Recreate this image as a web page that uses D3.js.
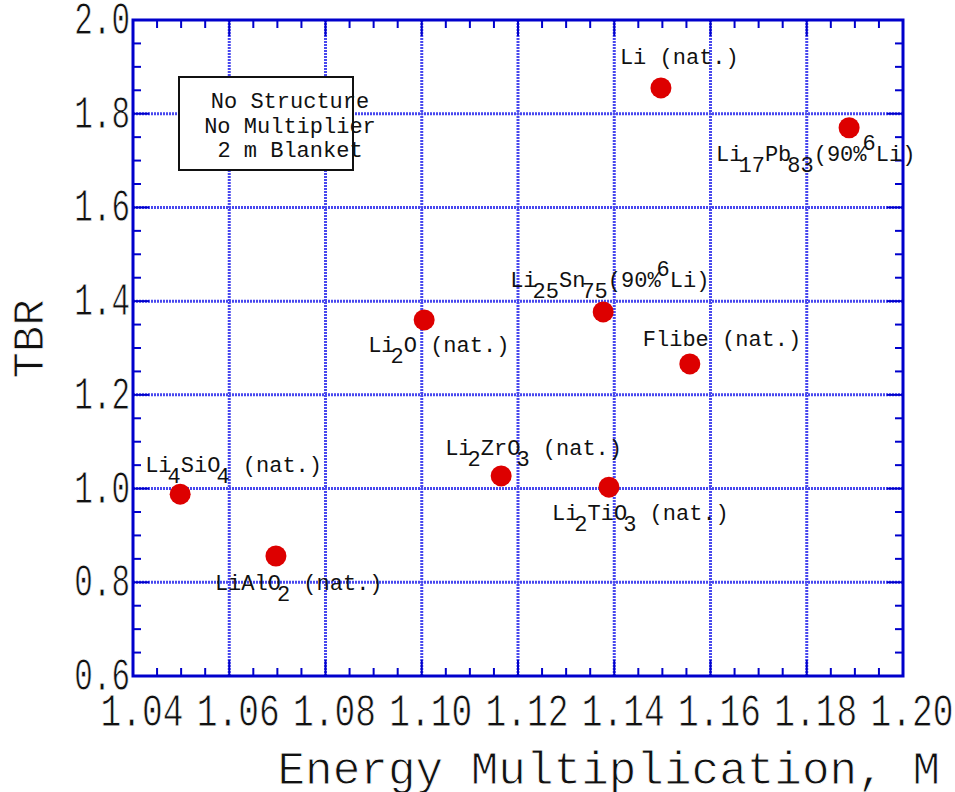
<!DOCTYPE html>
<html>
<head>
<meta charset="utf-8">
<script src="https://cdn.jsdelivr.net/npm/d3@7"></script>
<style>
  body { margin: 0; background: #fff; }
  text { font-family: "Liberation Mono", "DejaVu Sans Mono", monospace; fill: #111; }
  .tick-label { stroke: #fff; stroke-width: 0.6px; }
  .title { stroke: #fff; stroke-width: 0.9px; }
</style>
</head>
<body>
<svg id="chart" width="955" height="792"></svg>
<script>
// material names, split into text parts: s = subscript, p = superscript
const materials = [
  [['Li'], [' (nat.)']],
  [['Li'], ['17', 's'], ['Pb'], ['83', 's'], ['(90%'], ['6', 'p'], ['Li)']],
  [['Li'], ['25', 's'], ['Sn'], ['75', 's'], ['(90%'], ['6', 'p'], ['Li)']],
  [['Li'], ['2', 's'], ['O (nat.)']],
  [['Flibe (nat.)']],
  [['Li'], ['2', 's'], ['ZrO'], ['3', 's'], [' (nat.)']],
  [['Li'], ['2', 's'], ['TiO'], ['3', 's'], [' (nat.)']],
  [['Li'], ['4', 's'], ['SiO'], ['4', 's'], [' (nat.)']],
  [['LiAlO'], ['2', 's'], [' (nat.)']]
]
const energyMult = [1.1497, 1.1888, 1.1377, 1.1005, 1.1557, 1.1165, 1.1389, 1.0498, 1.0697]
const tbr = [1.855, 1.770, 1.377, 1.360, 1.266, 1.027, 1.003, 0.988, 0.856]
// label placement relative to the dot, in pixels
const labelOffsets = [[-41, -24], [-133, 33], [-93, -25], [-56, 32], [-47, -18], [-56, -21], [-57, 33], [-35, -22], [-61, 34]]

const xTicks = [1.04, 1.06, 1.08, 1.10, 1.12, 1.14, 1.16, 1.18, 1.20]
const yTicks = [0.6, 0.8, 1.0, 1.2, 1.4, 1.6, 1.8, 2.0]
const noteLines = ['No Structure', 'No Multiplier', '2 m Blanket']

const svg = d3.select('#chart')
const margin = { left: 133, right: 52, top: 20, bottom: 116 }
const W = 955, H = 792
const x = d3.scaleLinear().domain([1.04, 1.20]).range([margin.left, W - margin.right])
const y = d3.scaleLinear().domain([0.6, 2.0]).range([H - margin.bottom, margin.top])
const [x0, x1] = x.range(), [y0, y1] = y.range()

const blue = '#0000cc'

// grid
const grid = svg.append('g')
grid.selectAll('.gx').data(xTicks.slice(1, -1)).join('line')
  .attr('x1', d => x(d)).attr('x2', d => x(d)).attr('y1', y0).attr('y2', y1)
grid.selectAll('.gy').data(yTicks.slice(1, -1)).join('line')
  .attr('y1', d => y(d)).attr('y2', d => y(d)).attr('x1', x0).attr('x2', x1)
grid.selectAll('line')
  .attr('stroke', '#4848ee').attr('stroke-width', 3).attr('stroke-dasharray', '2,1')

// minor/major ticks, inward on all four sides
const ticks = svg.append('g').attr('stroke', blue).attr('stroke-width', 2)
const xMinor = d3.range(0, 33).map(i => 1.04 + i * 0.005)
const yMinor = d3.range(0, 29).map(i => 0.6 + i * 0.05)
xMinor.forEach((v, i) => {
  const len = i % 4 === 0 ? 16 : 8
  ticks.append('line').attr('x1', x(v)).attr('x2', x(v)).attr('y1', y0).attr('y2', y0 - len)
  ticks.append('line').attr('x1', x(v)).attr('x2', x(v)).attr('y1', y1).attr('y2', y1 + len)
})
yMinor.forEach((v, i) => {
  const len = i % 4 === 0 ? 16 : 8
  ticks.append('line').attr('y1', y(v)).attr('y2', y(v)).attr('x1', x0).attr('x2', x0 + len)
  ticks.append('line').attr('y1', y(v)).attr('y2', y(v)).attr('x1', x1).attr('x2', x1 - len)
})

// frame
svg.append('rect')
  .attr('x', x0).attr('y', y1).attr('width', x1 - x0).attr('height', y0 - y1)
  .attr('fill', 'none').attr('stroke', blue).attr('stroke-width', 3)

// tick labels (tall narrow digits)
svg.append('g').selectAll('text').data(xTicks).join('text')
  .attr('class', 'tick-label')
  .attr('transform', d => `translate(${x(d) + 9},${y0 + 50}) scale(0.96,1.3)`)
  .attr('text-anchor', 'middle')
  .style('font-size', '36px')
  .text(d => d.toFixed(2))
svg.append('g').selectAll('text').data(yTicks).join('text')
  .attr('class', 'tick-label')
  .attr('transform', d => `translate(${x0 - 3},${y(d) + 14}) scale(0.86,1.3)`)
  .attr('text-anchor', 'end')
  .style('font-size', '36px')
  .text(d => d.toFixed(1))

// axis titles
svg.append('text')
  .attr('class', 'title')
  .attr('transform', `translate(940,784)`)
  .attr('text-anchor', 'end')
  .style('font-size', '46px')
  .text('Energy Multiplication, M')
svg.append('text')
  .attr('class', 'title')
  .attr('transform', 'translate(43,339) rotate(-90)')
  .attr('text-anchor', 'middle')
  .style('font-size', '44px')
  .text('TBR')

// note box
svg.append('rect')
  .attr('x', 179).attr('y', 77).attr('width', 174).attr('height', 93)
  .attr('fill', '#fff').attr('stroke', '#111').attr('stroke-width', 2)
svg.append('g').selectAll('text').data(noteLines).join('text')
  .attr('x', 290).attr('y', (d, i) => 108 + i * 24.5)
  .attr('text-anchor', 'middle')
  .style('font-size', '22px')
  .text(d => d)

// points
svg.append('g').selectAll('circle').data(energyMult).join('circle')
  .attr('cx', d => x(d)).attr('cy', (d, i) => y(tbr[i]))
  .attr('r', 10.5).attr('fill', '#dd0000')

// labels with sub/superscripts
const labels = svg.append('g').selectAll('text').data(materials).join('text')
  .attr('x', (d, i) => x(energyMult[i]) + labelOffsets[i][0])
  .attr('y', (d, i) => y(tbr[i]) + labelOffsets[i][1])
  .style('font-size', '22px')
labels.each(function (parts) {
  const t = d3.select(this)
  let shift = 0
  parts.forEach(([txt, kind]) => {
    const want = kind === 's' ? 11 : kind === 'p' ? -11 : 0
    const ts = t.append('tspan').attr('dy', want - shift).text(txt)
    if (kind) ts.attr('dx', -4)
    shift = want
  })
})
</script>
</body>
</html>
